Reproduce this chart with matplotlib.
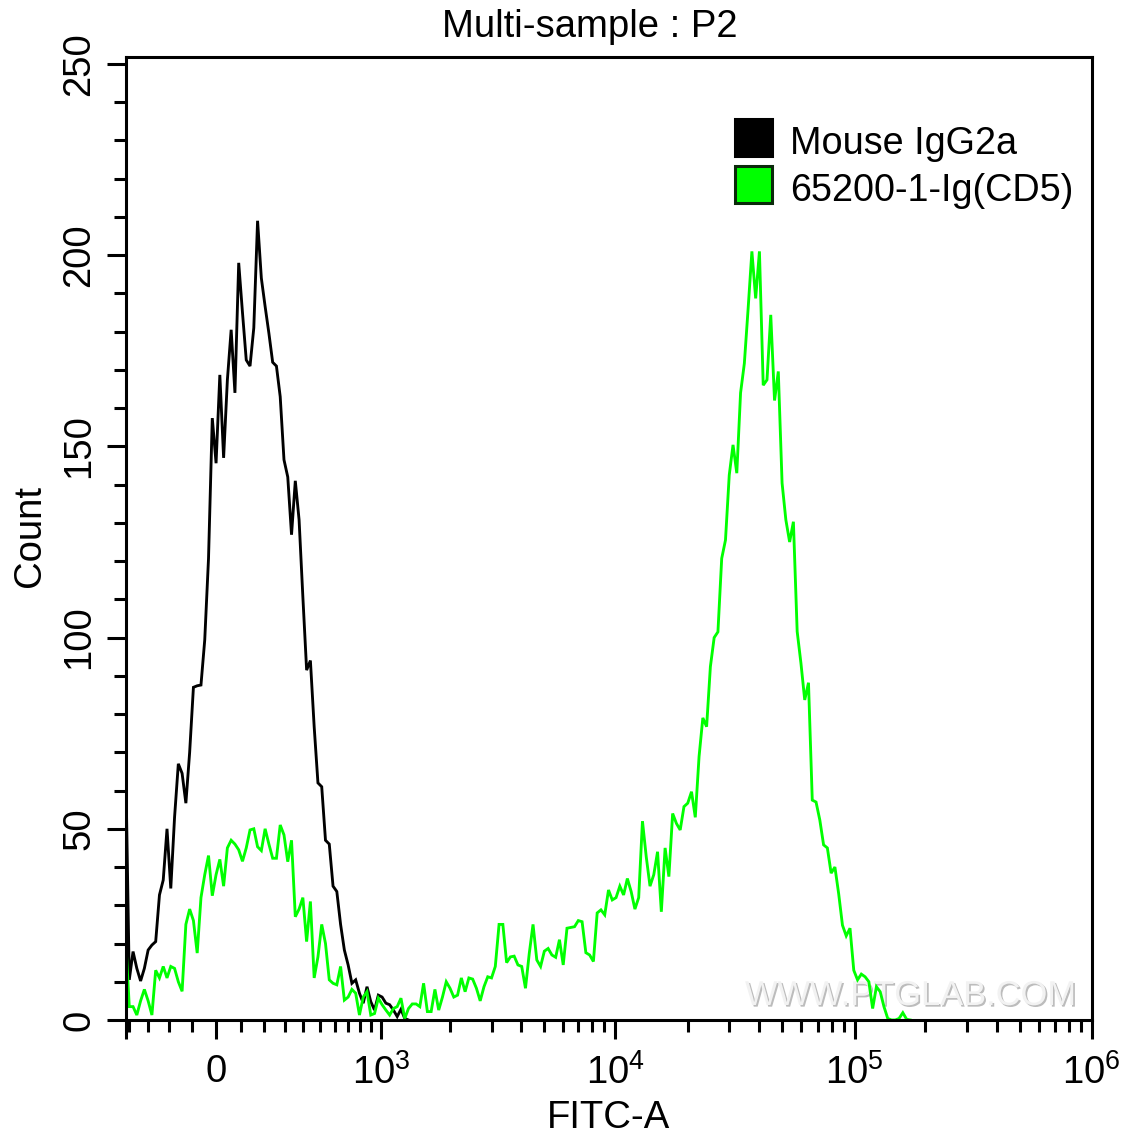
import numpy as np
import matplotlib
matplotlib.use("Agg")
import matplotlib.pyplot as plt
import matplotlib.patches as mpatches
import matplotlib.patheffects as pe
from matplotlib.ticker import FixedLocator, FixedFormatter

plt.rcParams['font.family'] = ['Liberation Sans', 'DejaVu Sans']
plt.rcParams['mathtext.fontset'] = 'custom'
plt.rcParams['mathtext.rm'] = 'Liberation Sans'

# Histogram counts per display channel (256-channel biexponential axis)
isotype_counts = [70, 10.5, 17.9, 13.5, 10.2, 13.5, 18.3, 19.6, 20.5, 32.7, 36.6, 50, 34.4, 53, 67, 64.5,
                  56.7, 70, 87, 87.4, 87.6, 99.4, 120.7, 157.4, 145.6, 168.7, 147, 167.4, 180.5, 164, 198, 185,
                  172.6, 171, 181, 209, 194, 186.6, 179.6, 172, 171, 163, 146.5, 142, 126.9, 141, 130.8, 110.7,
                  91.5, 94, 76.7, 62, 61, 47, 46, 35, 33.6, 25, 18.3, 14.4, 9.6, 10.5, 7, 4.4, 8.7, 4.8,
                  2.6, 6.5, 6, 4.4, 4, 2.6, 0.9, 2.8, 0.4, 0]
cd5_counts = [22, 3.5, 3.5, 1.3, 5, 8, 5, 1.3, 13, 11, 14, 11, 14, 13.5, 10, 7.5, 25, 29, 26, 17.5,
              32, 38, 43, 32.5, 38, 42, 35, 45, 47, 46, 44.5, 41.5, 45, 49.7, 50, 45.3, 44.3, 50, 46, 42.3,
              42.3, 51, 48.4, 41.4, 47, 27, 29, 32, 20.5, 31, 11, 16.5, 25, 20, 10.5, 9.6, 9.2, 14, 5.2, 6,
              8, 7, 1.3, 6, 7.4, 1.3, 1.7, 5.7, 4, 2.6, 1.3, 3, 3.5, 5.7, 0.4, 3, 4.2, 4.2, 3.5, 9.6,
              2.2, 2.2, 8, 2.6, 6, 10, 8.3, 6, 6.5, 11, 7.4, 11, 10.7, 8.3, 5, 8.7, 11.3, 11, 14, 25,
              25, 15, 16.5, 16.7, 14.4, 14, 8.3, 17.4, 25, 15.7, 14, 18, 18.7, 17, 16.4, 21, 14.4, 24, 24.2, 24.4,
              26, 25.7, 17.6, 17, 15.3, 28, 28.8, 27.5, 34, 31.4, 32, 35, 32.7, 37, 33.6, 29, 32, 52, 42.7, 35,
              38, 44, 28.3, 45, 37.5, 54, 51.4, 49.7, 55.8, 56.7, 59.7, 53, 68.9, 79, 76.7, 92.4, 100, 101.5, 120.7, 125.5,
              142.5, 150.4, 143, 164, 171.7, 186, 201, 188.7, 201, 166, 167.4, 184.4, 162, 169.6, 140.4, 130.8, 125, 130.3,
              101.6, 93.3, 83.7, 88.2, 57.5, 57, 52.3, 45.8, 45, 38.4, 40, 33, 24.8, 22, 24, 13, 10.5, 12, 11.3, 10,
              3, 8.7, 7.4, 3.5, 0.4, 0, 0, 0.4, 1.9, 0.2, 0]
series_names = ['Mouse IgG2a', '65200-1-Ig(CD5)']
series_colors = ['#000000', '#00ff00']

# Axis tick tables: channel location of each FITC-A tick on the biexponential scale
major_channels = [0, 24.0, 67.8, 129.8, 193.2, 256.0]
major_labels = ['', '0', r'$\mathregular{10^{3}}$', r'$\mathregular{10^{4}}$',
                r'$\mathregular{10^{5}}$', r'$\mathregular{10^{6}}$']
minor_channels = [1.0, 6.0, 11.6, 17.7,
                  30.6, 36.8, 42.3, 47.0, 51.6, 55.6, 59.0, 62.2, 65.1,
                  86.1, 97.1, 104.9, 111.0, 116.0, 120.0, 123.7, 126.9,
                  149.0, 160.0, 168.0, 174.1, 179.1, 183.4, 187.1, 190.5,
                  212.0, 223.0, 231.0, 237.1, 242.2, 246.4, 250.1, 253.3]
y_major = [0, 50, 100, 150, 200, 250]
y_minor = [10, 20, 30, 40, 60, 70, 80, 90, 110, 120, 130, 140, 160, 170, 180, 190, 210, 220, 230, 240]

W, H = 1140, 1137
fig = plt.figure(figsize=(W / 100, H / 100), dpi=100, facecolor='white')
L, R, T, B = 125.5, 1091.5, 56.5, 1020.0
ax = fig.add_axes([L / W, 1 - B / H, (R - L) / W, (B - T) / H])
ax.set_xlim(0, 256)
ax.set_ylim(0, (B - T) / 3.824)

handles = []
for counts, name, color in zip([isotype_counts, cd5_counts], series_names, series_colors):
    ax.plot(np.arange(len(counts)), counts, color=color, lw=2.05, solid_joinstyle='miter', zorder=2)
    handles.append(mpatches.Patch(facecolor=color, edgecolor='#0a2a0a' if color != '#000000' else '#000000',
                                  linewidth=2.2, label=name))

for s in ax.spines.values():
    s.set_linewidth(2.2)
    s.set_color('black')

FS = 27.5
ax.xaxis.set_major_locator(FixedLocator(major_channels))
ax.xaxis.set_major_formatter(FixedFormatter(major_labels))
ax.xaxis.set_minor_locator(FixedLocator(minor_channels))
ax.yaxis.set_major_locator(FixedLocator(y_major))
ax.yaxis.set_minor_locator(FixedLocator(y_minor))
ax.tick_params(axis='both', which='major', length=13.5, width=2.2, labelsize=FS, color='black')
ax.tick_params(axis='both', which='minor', length=8.6, width=2.2, color='black')
ax.tick_params(axis='x', which='major', pad=11)
ax.tick_params(axis='y', which='major', pad=7)
for t in ax.get_yticklabels():
    t.set_rotation(90)
    t.set_va('center')

fig.text(590 / W, 1 - 27 / H, 'Multi-sample : P2', fontsize=FS, ha='center', va='center')
ax.set_xlabel('FITC-A', fontsize=FS)
ax.xaxis.set_label_coords(0.5, 1 - (1118 - T) / (B - T), transform=ax.transAxes)
ax.xaxis.label.set_va('center')
ax.set_ylabel('Count', fontsize=FS)
ax.yaxis.set_label_coords((30 - L) / (R - L), 0.502, transform=ax.transAxes)
ax.yaxis.label.set_va('center')

leg = ax.legend(handles=handles, loc='upper left', bbox_to_anchor=(735 / W, 1 - 119 / H),
                bbox_transform=fig.transFigure, frameon=False, fontsize=27.2, borderpad=0, borderaxespad=0,
                handlelength=0.99, handleheight=1.13, handletextpad=0.45, labelspacing=0.2)
for t in leg.get_texts():
    t.set_position((1, -4))

ax.text(745 / W, 1 - 1005 / H, 'WWW.PTGLAB.COM', transform=fig.transFigure, fontsize=24.8, ha='left',
        va='baseline', color='#f2f2f2', zorder=1,
        path_effects=[pe.SimplePatchShadow(offset=(1.2, -1.2), shadow_rgbFace='#b5b5b5', alpha=0.9), pe.Normal()])

fig.savefig('out.png', dpi=100)
